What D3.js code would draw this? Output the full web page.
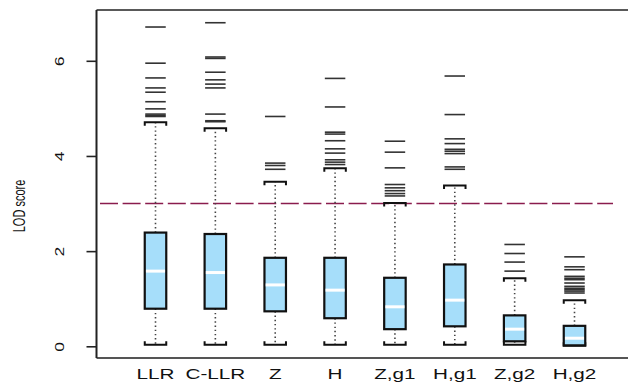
<!DOCTYPE html>
<html>
<head>
<meta charset="utf-8">
<script src="https://cdn.jsdelivr.net/npm/d3@7"></script>
<style>
html,body{margin:0;padding:0;background:#fff;}
svg{display:block;}
text{font-family:"Liberation Sans",Arial,sans-serif;fill:#111;}
</style>
</head>
<body>
<svg id="chart" width="628" height="383"></svg>
<script>
const categories = ["LLR","C-LLR","Z","H","Z,g1","H,g1","Z,g2","H,g2"];
const whiskerLow  = [0.03,0.03,0.03,0.03,0.03,0.03,0.03,0.01];
const q1          = [0.79,0.79,0.735,0.59,0.36,0.42,0.105,0.02];
const median      = [1.58,1.55,1.29,1.18,0.83,0.97,0.36,0.17];
const q3          = [2.39,2.36,1.86,1.86,1.44,1.72,0.65,0.43];
const whiskerHigh = [4.71,4.58,3.46,3.74,3.01,3.38,1.43,0.97];
const outliers = [
  [6.71,5.95,5.64,5.43,5.34,5.14,4.99,4.88,4.85,4.83],
  [6.80,6.08,6.05,5.76,5.60,5.51,5.43,4.88,4.74,4.72],
  [4.83,3.85,3.80,3.72],
  [5.63,5.03,4.50,4.46,4.32,4.15,4.06,3.92,3.87,3.82],
  [4.31,4.08,3.75,3.40,3.33,3.27,3.21,3.16],
  [5.68,4.87,4.36,4.26,4.14,4.10,4.05,3.77,3.72],
  [2.14,1.95,1.77,1.58],
  [1.88,1.67,1.61,1.47,1.43,1.40,1.33,1.26,1.22,1.19,1.16,1.12]
];
const yTicks = [0,2,4,6];
const threshold = 3;
const yLabel = "LOD score";

const svg = d3.select("#chart");
const x = d3.scalePoint().domain(categories).range([155.5, 574.5]);
const y = d3.scaleLinear().domain([0,6]).range([346.3, 60.8]);
const bw = 21.5;
const SX = 1.5; // horizontal stretch of the reference

const data = categories.map((c,i)=>({c, lo:whiskerLow[i], q1:q1[i], med:median[i], q3:q3[i], hi:whiskerHigh[i], out:outliers[i]}));

// frame
svg.append("line").attr("x1",96.5).attr("x2",628).attr("y1",10).attr("y2",10).attr("stroke","#222").attr("stroke-width",1.6);
svg.append("line").attr("x1",96.5).attr("x2",628).attr("y1",358).attr("y2",358).attr("stroke","#555").attr("stroke-width",2);
svg.append("line").attr("x1",96.5).attr("x2",96.5).attr("y1",10).attr("y2",358).attr("stroke","#222").attr("stroke-width",2);

// y axis
const yAxis = d3.axisLeft(y).tickValues(yTicks).tickSize(10).tickFormat(d3.format("d"));
const ga = svg.append("g").attr("transform","translate(96.5,0)").call(yAxis);
ga.select(".domain").remove();
ga.selectAll(".tick line").attr("stroke","#222").attr("stroke-width",1.6);
ga.selectAll(".tick text").remove();
ga.selectAll(".tick").append("text")
  .attr("transform",`translate(-32.5,0) scale(0.75,1) rotate(-90)`)
  .attr("text-anchor","middle")
  .attr("font-size",17.5)
  .attr("fill","#111")
  .text(d=>d);

svg.append("text")
  .attr("transform",`translate(25,206) scale(${SX},1) rotate(-90)`)
  .attr("text-anchor","middle")
  .attr("font-size",11)
  .text(yLabel);

// dashed threshold
svg.append("line").attr("x1",100).attr("x2",613).attr("y1",y(threshold)).attr("y2",y(threshold))
  .attr("stroke","#8a1c4e").attr("stroke-width",1.5).attr("stroke-dasharray","18,4.6");

const g = svg.append("g").selectAll("g").data(data).join("g")
  .attr("transform",d=>`translate(${x(d.c)},0)`);

// whiskers (dotted)
g.append("line").attr("x1",0).attr("x2",0).attr("y1",d=>y(d.q3)).attr("y2",d=>y(d.hi))
  .attr("stroke","#444").attr("stroke-width",1.6).attr("stroke-dasharray","1.4,2.8");
g.append("line").attr("x1",0).attr("x2",0).attr("y1",d=>y(d.q1)).attr("y2",d=>y(d.lo))
  .attr("stroke","#444").attr("stroke-width",1.6).attr("stroke-dasharray","1.4,2.8");

// staples
g.append("path").attr("d",d=>`M${-bw/2},${y(d.hi)+3.5}V${y(d.hi)}H${bw/2}V${y(d.hi)+3.5}`)
  .attr("fill","none").attr("stroke","#111").attr("stroke-width",2);
g.append("path").attr("d",d=>`M${-bw/2},${y(d.lo)-3.5}V${y(d.lo)}H${bw/2}V${y(d.lo)-3.5}`)
  .attr("fill","none").attr("stroke","#111").attr("stroke-width",2);

// boxes
g.append("rect").attr("x",-bw/2).attr("width",bw).attr("y",d=>y(d.q3)).attr("height",d=>y(d.q1)-y(d.q3))
  .attr("fill","#a6defa").attr("stroke","#111").attr("stroke-width",2.2);
g.append("line").attr("x1",-bw/2+1.2).attr("x2",bw/2-1.2).attr("y1",d=>y(d.med)).attr("y2",d=>y(d.med))
  .attr("stroke","#fff").attr("stroke-width",3);

// outliers as horizontal dashes
g.selectAll(".out").data(d=>d.out).join("line").attr("class","out")
  .attr("x1",-bw/2+0.5).attr("x2",bw/2-0.5).attr("y1",v=>y(v)).attr("y2",v=>y(v))
  .attr("stroke","#333").attr("stroke-width",1.6);

// x labels
svg.append("g").selectAll("text").data(categories).join("text")
  .attr("transform",d=>`translate(${x(d)},379) scale(${SX},1)`)
  .attr("text-anchor","middle")
  .attr("font-size",13.8)
  .text(d=>d);
</script>
</body>
</html>
